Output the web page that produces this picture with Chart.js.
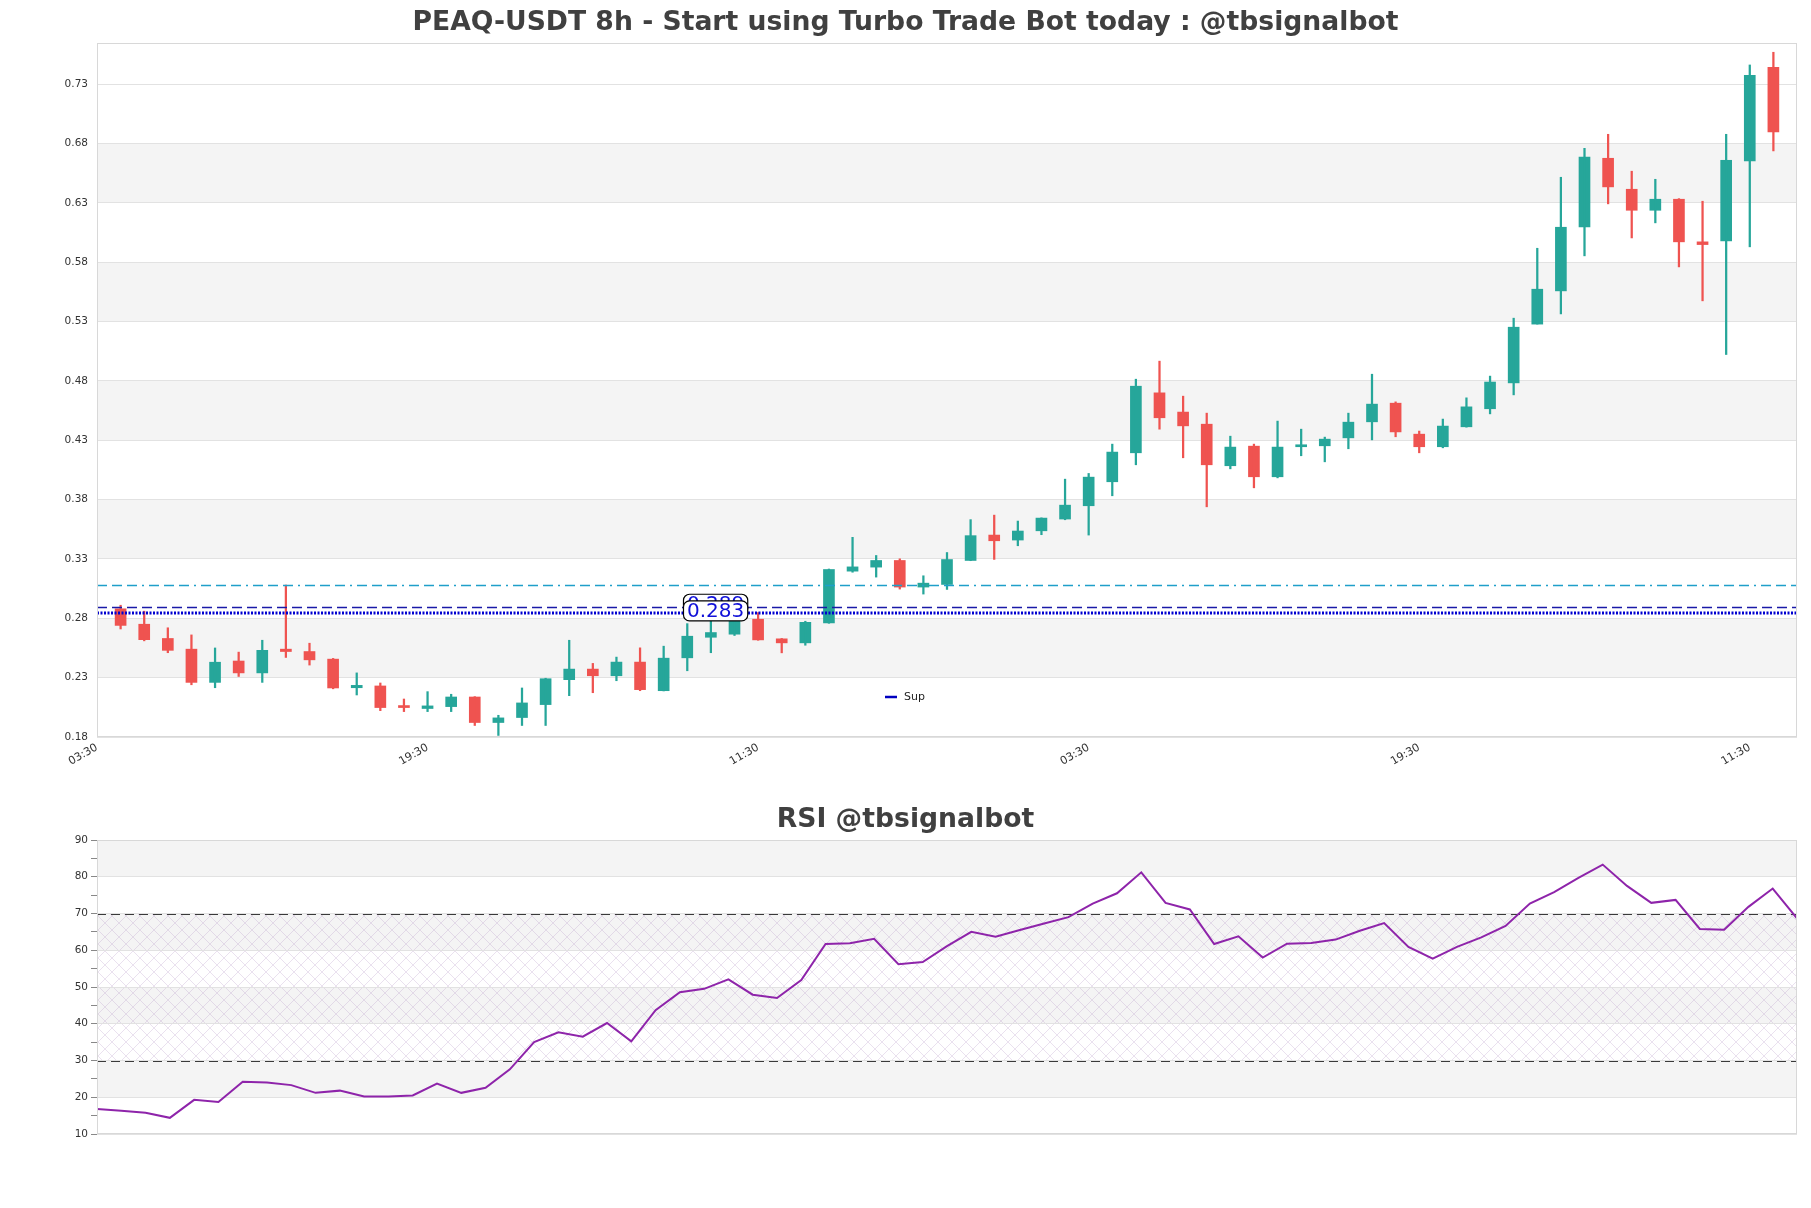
<!DOCTYPE html>
<html>
<head>
<meta charset="utf-8">
<script src="https://cdn.jsdelivr.net/npm/chart.js@4.4.1/dist/chart.umd.min.js"></script>
<style>
  html, body { margin: 0; padding: 0; background: #fff; }
  #wrap { position: relative; width: 1811px; height: 1208px; }
  #price { position: absolute; left: 0; top: 0; }
  #rsi { position: absolute; left: 0; top: 790px; }
</style>
</head>
<body>
<div id="wrap">
  <canvas id="price" width="1811" height="790"></canvas>
  <canvas id="rsi" width="1811" height="418"></canvas>
</div>
<script>
// 8h candles
const opens  = [0.288,0.275,0.263,0.254,0.226,0.244,0.234,0.254,0.252,0.2456,0.2215,0.223,0.2055,0.204,0.2056,0.2137,0.1922,0.1964,0.2073,0.2283,
  0.2372,0.2316,0.2431,0.219,0.2467,0.264,0.2666,0.2792,0.2627,0.2593,0.2761,0.3197,0.3231,0.3287,0.3063,0.3085,0.3287,0.3501,0.3459,0.3537,
  0.3636,0.3748,0.395,0.4194,0.4699,0.4537,0.4435,0.4085,0.425,0.3992,0.4245,0.4253,0.432,0.4455,0.4612,0.4351,0.4245,0.4413,0.4565,0.4783,
  0.5278,0.5558,0.6097,0.6675,0.6414,0.6237,0.633,0.5971,0.5979,0.6653,0.7441];
const highs  = [0.291,0.286,0.272,0.266,0.255,0.2515,0.2615,0.308,0.259,0.2462,0.234,0.2255,0.212,0.2182,0.216,0.214,0.1983,0.2213,0.2295,0.2615,
  0.242,0.2473,0.2551,0.2565,0.2755,0.279,0.2795,0.2848,0.263,0.2775,0.3215,0.3482,0.3329,0.3301,0.3158,0.3354,0.3631,0.3669,0.3619,0.3646,
  0.3972,0.402,0.4267,0.4814,0.4966,0.4671,0.4528,0.4334,0.4267,0.4461,0.4393,0.4326,0.4528,0.4856,0.4623,0.4377,0.4478,0.4657,0.484,0.5328,
  0.5917,0.6515,0.6759,0.6877,0.6566,0.6498,0.6335,0.6313,0.6877,0.7461,0.7568];
const lows   = [0.271,0.261,0.251,0.224,0.2215,0.231,0.226,0.247,0.2406,0.2206,0.2154,0.2022,0.2014,0.2014,0.2014,0.1897,0.1813,0.1897,0.1897,0.2148,
  0.2173,0.2274,0.219,0.2188,0.2358,0.251,0.2655,0.2615,0.2509,0.2573,0.2758,0.3188,0.3147,0.3046,0.3004,0.3043,0.3285,0.3296,0.3411,0.3504,
  0.363,0.3501,0.3832,0.4093,0.4393,0.4152,0.3739,0.4059,0.3899,0.3983,0.4169,0.4118,0.4228,0.4303,0.4329,0.4194,0.4236,0.441,0.4522,0.4682,
  0.5278,0.5364,0.5853,0.6291,0.6004,0.6131,0.576,0.5474,0.5022,0.5929,0.6737];
const closes = [0.274,0.262,0.253,0.226,0.243,0.234,0.253,0.252,0.245,0.2213,0.2235,0.2048,0.2048,0.2062,0.2137,0.1922,0.1961,0.2087,0.2291,0.2372,
  0.2316,0.2431,0.2199,0.2464,0.2649,0.268,0.2785,0.2618,0.2593,0.2766,0.3211,0.3233,0.3287,0.3063,0.3096,0.3295,0.3496,0.3453,0.3535,0.3644,
  0.3753,0.3989,0.42,0.4755,0.4489,0.4421,0.4093,0.4242,0.3992,0.4242,0.4259,0.4309,0.4452,0.4604,0.437,0.4245,0.4419,0.4581,0.479,0.5252,
  0.5572,0.6094,0.6684,0.6434,0.6237,0.633,0.5971,0.5948,0.6658,0.7374,0.6897];

const rsiValues = [16.8,16.3,15.8,14.4,19.3,18.7,24.2,24.0,23.3,21.2,21.8,20.2,20.2,20.5,23.7,21.2,22.6,27.6,35.0,37.7,
  36.5,40.2,35.2,43.7,48.6,49.5,52.1,47.9,47.0,51.9,61.7,61.9,63.1,56.2,56.8,61.1,65.0,63.7,65.5,67.3,
  69.0,72.7,75.5,81.2,72.9,71.1,61.7,63.8,58.0,61.8,62.0,62.9,65.3,67.4,60.9,57.7,60.9,63.5,66.6,72.7,
  75.8,79.7,83.3,77.5,72.9,73.7,65.8,65.6,71.8,76.8,68.7];

const timeLabels = ['03:30', '19:30', '11:30', '03:30', '19:30', '11:30'];
const priceTicks = [0.18, 0.23, 0.28, 0.33, 0.38, 0.43, 0.48, 0.53, 0.58, 0.63, 0.68, 0.73];

// horizontal levels: resistance (dash-dot), 0.289 (dashed), support 0.283 (dotted)
const levelValues = [0.3077, 0.2899, 0.2843];
const levelLabels = ['0.289', '0.283'];

const UP = '#26a69a';
const DOWN = '#ef5350';
const GRID = '#e2e2e2';
const BAND = '#f4f4f4';
const TXT = '#333';

const idx = opens.map((_, i) => i);
const candleColors = idx.map(i => closes[i] >= opens[i] ? UP : DOWN);
const labelPos = timeLabels.map((_, k) => -1 + 14 * k);

let titleScaleX = 1;
function drawTitle(chart, text, y) {
  const ctx = chart.ctx;
  ctx.save();
  ctx.font = 'bold 27px "DejaVu Sans"';
  if (text.startsWith('PEAQ')) titleScaleX = 986 / ctx.measureText(text).width;
  ctx.translate(905.5, y);
  ctx.scale(titleScaleX, 1);
  ctx.fillStyle = '#404040';
  ctx.textAlign = 'center';
  ctx.textBaseline = 'middle';
  ctx.fillText(text, 0, 0);
  ctx.restore();
}

function strokeBorder(chart) {
  const { ctx, chartArea: a } = chart;
  ctx.save();
  ctx.strokeStyle = '#d8d8d8';
  ctx.lineWidth = 1;
  ctx.strokeRect(a.left + 0.5, a.top + 0.5, a.right - a.left - 1, a.bottom - a.top - 1);
  ctx.restore();
}

const pricePlugin = {
  id: 'pricePlugin',
  beforeDraw(chart) {
    const { ctx, chartArea: a, scales: { y } } = chart;
    ctx.save();
    ctx.fillStyle = BAND;
    for (let k = 1; k + 1 < priceTicks.length; k += 2) {
      const top = y.getPixelForValue(priceTicks[k + 1]);
      const bot = y.getPixelForValue(priceTicks[k]);
      ctx.fillRect(a.left, top, a.right - a.left, bot - top);
    }
    ctx.restore();
  },
  afterDatasetsDraw(chart) {
    const { ctx, chartArea: a, scales: { x, y } } = chart;
    ctx.save();
    // resistance
    let py = Math.round(y.getPixelForValue(levelValues[0])) + 0.5;
    ctx.strokeStyle = '#1f9fc9';
    ctx.lineWidth = 1.3;
    ctx.setLineDash([10, 5, 10, 5, 10, 5, 2, 5]);
    ctx.beginPath(); ctx.moveTo(a.left, py); ctx.lineTo(a.right, py); ctx.stroke();
    // 0.289
    py = Math.round(y.getPixelForValue(levelValues[1])) + 0.5;
    ctx.strokeStyle = '#1a1aa8';
    ctx.setLineDash([10, 5]);
    ctx.beginPath(); ctx.moveTo(a.left, py); ctx.lineTo(a.right, py); ctx.stroke();
    // support
    py = Math.round(y.getPixelForValue(levelValues[2]));
    ctx.strokeStyle = '#0000d0';
    ctx.lineWidth = 3;
    ctx.setLineDash([2, 1.5]);
    ctx.beginPath(); ctx.moveTo(a.left, py); ctx.lineTo(a.right, py); ctx.stroke();
    ctx.setLineDash([]);

    // value tags
    ctx.font = '20px "DejaVu Sans"';
    ctx.textAlign = 'center';
    ctx.textBaseline = 'middle';
    const cx = x.getPixelForValue(25.2);
    levelLabels.forEach((t, k) => {
      const cy = y.getPixelForValue(levelValues[k + 1]) - 2.3;
      const w = ctx.measureText(t).width + 7;
      const h = 20;
      ctx.beginPath();
      ctx.roundRect(cx - w / 2, cy - h / 2, w, h, 6);
      ctx.fillStyle = '#fff';
      ctx.fill();
      ctx.strokeStyle = '#000';
      ctx.lineWidth = 1.2;
      ctx.stroke();
      ctx.fillStyle = '#1010d8';
      ctx.fillText(t, cx, cy + 1);
    });

    // legend
    const lx = a.left + 788, ly = a.top + 654;
    ctx.strokeStyle = '#0000c0';
    ctx.lineWidth = 2.5;
    ctx.beginPath(); ctx.moveTo(lx, ly); ctx.lineTo(lx + 12, ly); ctx.stroke();
    ctx.font = '11px "DejaVu Sans"';
    ctx.fillStyle = '#222';
    ctx.textAlign = 'left';
    ctx.fillText('Sup', lx + 19, ly);
    ctx.restore();
  },
  afterDraw(chart) {
    strokeBorder(chart);
    drawTitle(chart, 'PEAQ-USDT 8h - Start using Turbo Trade Bot today : @tbsignalbot', 23);
  }
};

new Chart(document.getElementById('price'), {
  type: 'bar',
  data: {
    datasets: [
      {
        label: 'wick',
        data: idx.map(i => ({ x: i, y: [lows[i], highs[i]] })),
        backgroundColor: candleColors,
        barThickness: 1.6,
        grouped: false,
        borderWidth: 0
      },
      {
        label: 'body',
        data: idx.map(i => ({ x: i, y: [opens[i], closes[i]] })),
        backgroundColor: candleColors,
        barThickness: 11,
        minBarLength: 2,
        grouped: false,
        borderWidth: 0
      }
    ]
  },
  options: {
    responsive: false,
    devicePixelRatio: 1,
    animation: false,
    layout: { padding: { top: 43, right: 14, left: 0, bottom: 0 } },
    plugins: { legend: { display: false }, tooltip: { enabled: false }, title: { display: false } },
    scales: {
      x: {
        type: 'linear',
        min: -1,
        max: 71,
        offset: false,
        grid: { display: false, offset: false, drawTicks: false },
        border: { display: false },
        afterBuildTicks: (s) => { s.ticks = labelPos.map(v => ({ value: v })); },
        afterFit: (s) => { s.height = 53; },
        ticks: {
          autoSkip: false,
          minRotation: 30,
          maxRotation: 30,
          padding: 4,
          color: TXT,
          font: { family: 'DejaVu Sans', size: 11 },
          callback: (v) => timeLabels[labelPos.indexOf(v)]
        }
      },
      y: {
        type: 'linear',
        min: 0.18,
        max: 0.7646,
        grid: { color: GRID, drawTicks: false },
        border: { display: false },
        afterBuildTicks: (s) => { s.ticks = priceTicks.map(v => ({ value: v })); },
        afterFit: (s) => { s.width = 97; },
        ticks: {
          padding: 9,
          color: TXT,
          font: { family: 'DejaVu Sans', size: 10.5 },
          callback: (v) => v.toFixed(2)
        }
      }
    }
  },
  plugins: [pricePlugin]
});

// RSI panel
function hatchPattern(ctx) {
  const c = document.createElement('canvas');
  c.width = 14; c.height = 14;
  const g = c.getContext('2d');
  g.strokeStyle = 'rgba(175,140,195,0.38)';
  g.lineWidth = 0.7;
  g.beginPath();
  g.moveTo(0, 14); g.lineTo(14, 0);
  g.moveTo(0, 0); g.lineTo(14, 14);
  g.moveTo(-7, 7); g.lineTo(7, -7);
  g.moveTo(7, 21); g.lineTo(21, 7);
  g.stroke();
  return ctx.createPattern(c, 'repeat');
}

const rsiPlugin = {
  id: 'rsiPlugin',
  beforeDraw(chart) {
    const { ctx, chartArea: a, scales: { y } } = chart;
    ctx.save();
    ctx.fillStyle = BAND;
    [[80, 90], [60, 70], [40, 50], [20, 30]].forEach(([lo, hi]) => {
      const top = y.getPixelForValue(hi), bot = y.getPixelForValue(lo);
      ctx.fillRect(a.left, top, a.right - a.left, bot - top);
    });
    const top = y.getPixelForValue(70), bot = y.getPixelForValue(30);
    ctx.fillStyle = hatchPattern(ctx);
    ctx.fillRect(a.left, top, a.right - a.left, bot - top);
    ctx.restore();
  },
  beforeDatasetsDraw(chart) {
    const { ctx, chartArea: a, scales: { y } } = chart;
    ctx.save();
    ctx.strokeStyle = '#3a3a3a';
    ctx.lineWidth = 1.2;
    ctx.setLineDash([9, 5]);
    [70, 30].forEach(v => {
      const py = Math.round(y.getPixelForValue(v)) + 0.5;
      ctx.beginPath(); ctx.moveTo(a.left, py); ctx.lineTo(a.right, py); ctx.stroke();
    });
    ctx.restore();
  },
  afterDraw(chart) {
    strokeBorder(chart);
    drawTitle(chart, 'RSI @tbsignalbot', 30);
  }
};

new Chart(document.getElementById('rsi'), {
  type: 'line',
  data: {
    datasets: [{
      label: 'RSI',
      data: rsiValues.map((v, i) => ({ x: i, y: v })),
      borderColor: '#8e24aa',
      borderWidth: 2,
      pointRadius: 0,
      tension: 0,
      fill: false
    }]
  },
  options: {
    responsive: false,
    devicePixelRatio: 1,
    animation: false,
    layout: { padding: { top: 50, right: 14, left: 0, bottom: 74 } },
    plugins: { legend: { display: false }, tooltip: { enabled: false } },
    scales: {
      x: { type: 'linear', min: 0, max: 70, display: false },
      y: {
        min: 10,
        max: 90,
        border: { display: false },
        afterFit: (s) => { s.width = 97; },
        grid: {
          color: (c) => (c.tick && c.tick.value % 10 === 0) ? GRID : 'rgba(0,0,0,0)',
          tickColor: '#888',
          tickLength: 6
        },
        ticks: {
          stepSize: 5,
          padding: 3,
          color: TXT,
          font: { family: 'DejaVu Sans', size: 10.5 },
          callback: (v) => v % 10 === 0 ? String(v) : ''
        }
      }
    }
  },
  plugins: [rsiPlugin]
});
</script>
</body>
</html>
